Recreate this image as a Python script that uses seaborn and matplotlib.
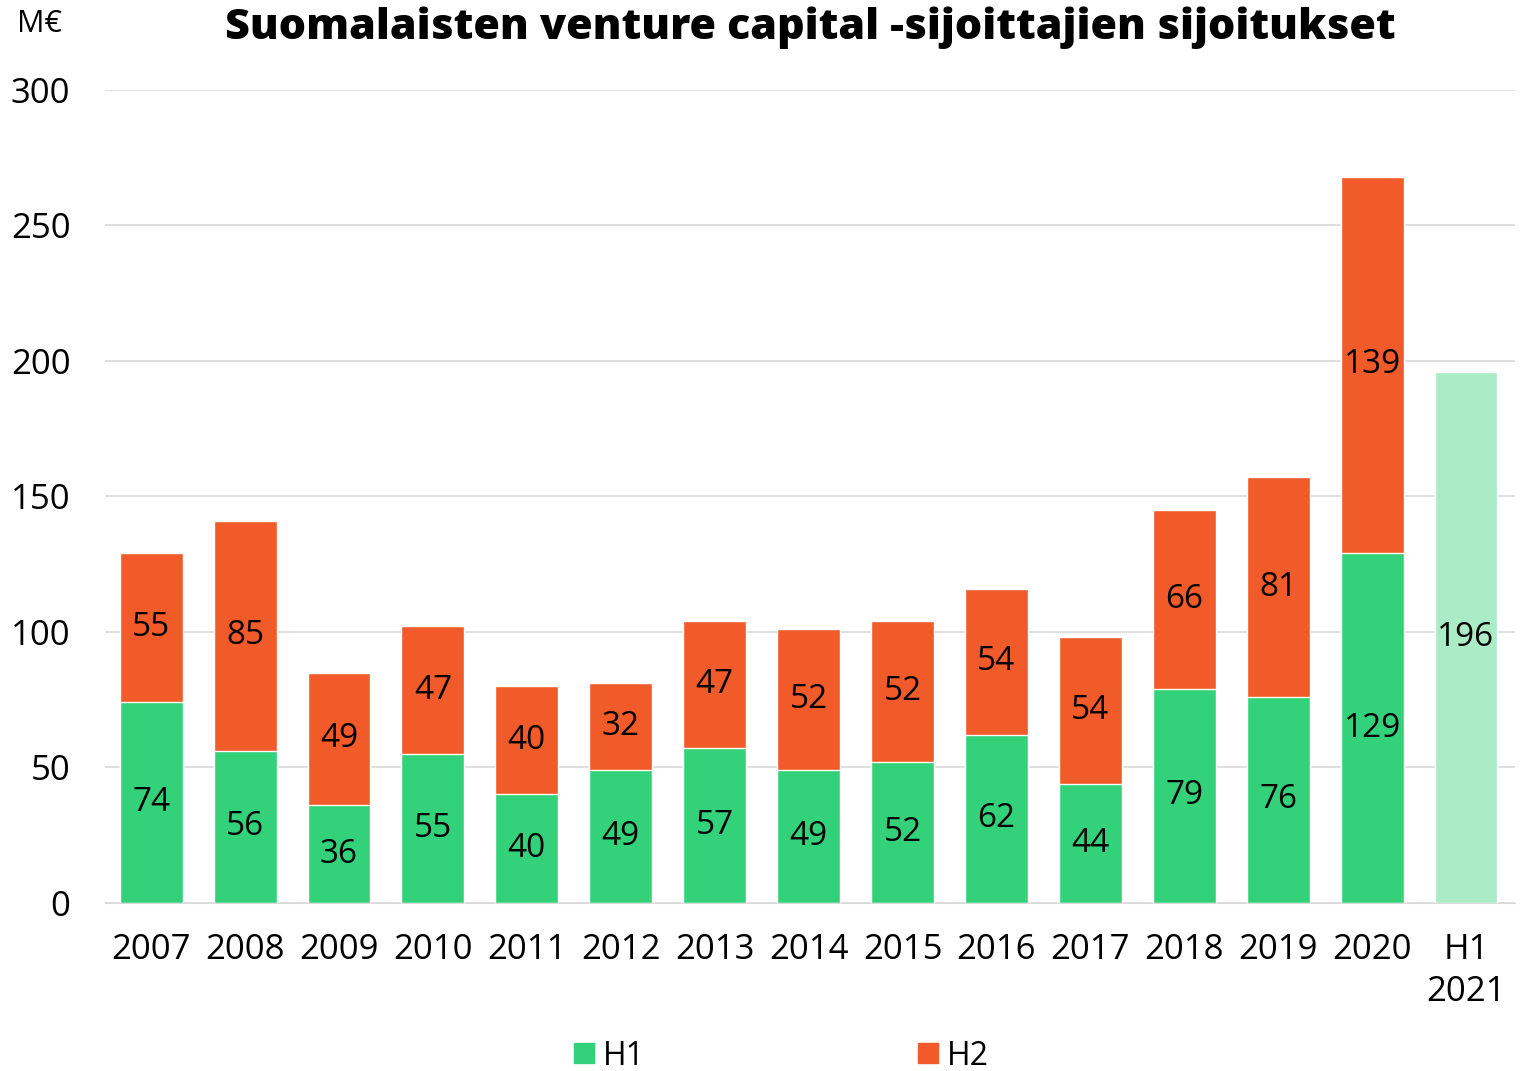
import matplotlib
matplotlib.use("Agg")
import matplotlib.pyplot as plt
import seaborn as sns
from matplotlib.patches import Patch

years = ["2007", "2008", "2009", "2010", "2011", "2012", "2013", "2014",
         "2015", "2016", "2017", "2018", "2019", "2020", "H1\n2021"]
h1 = [74, 56, 36, 55, 40, 49, 57, 49, 52, 62, 44, 79, 76, 129, 196]
h2 = [55, 85, 49, 47, 40, 32, 47, 52, 52, 54, 54, 66, 81, 139, 0]

green = "#33D17A"
orange = "#F15A29"
light_green = "#ABEBC6"

sns.set_style("white")
plt.rcParams["font.family"] = ["Open Sans", "DejaVu Sans"]
plt.rcParams["text.color"] = "black"
plt.rcParams["xtick.color"] = "black"
plt.rcParams["ytick.color"] = "black"

totals = [a + b for a, b in zip(h1, h2)]
h1_colors = [green] * (len(years) - 1) + [light_green]

fig = plt.figure(figsize=(15.24, 10.71), dpi=100)
ax = fig.add_axes([0.069, 0.157, 0.925, 0.759])

# orange totals first, green H1 on top
sns.barplot(x=years, y=totals, color=orange, width=0.67, ax=ax, saturation=1)
sns.barplot(x=years, y=h1, hue=years, palette=h1_colors, width=0.67, ax=ax,
            saturation=1, legend=False)

for i, (a, b) in enumerate(zip(h1, h2)):
    ax.text(i, a / 2, str(a), ha="center", va="center", fontsize=24)
    if b:
        ax.text(i, a + b / 2, str(b), ha="center", va="center", fontsize=24)

ax.set_ylim(0, 300)
ax.set_xlim(-0.49, 14.52)
ax.set_yticks(range(0, 301, 50))
ax.yaxis.grid(True, color="#D9D9D9", linewidth=1.2)
ax.set_axisbelow(True)
for s in ["top", "right", "left"]:
    ax.spines[s].set_visible(False)
ax.spines["bottom"].set_color("#D9D9D9")
ax.tick_params(axis="both", length=0, labelsize=25)
ax.tick_params(axis="x", pad=22)
ax.tick_params(axis="y", pad=25)
for lbl in ax.get_xticklabels():
    lbl.set_linespacing(1.3)
ax.set_xlabel("")
ax.set_ylabel("")

fig.text(0.026, 0.978, "M€", fontsize=22, ha="center", va="center")
fig.text(0.532, 0.974, "Suomalaisten venture capital -sijoittajien sijoitukset",
         fontsize=31, fontweight="heavy", ha="center", va="center")

handles = [Patch(color=green, label="H1"), Patch(color=orange, label="H2")]
fig.legend(handles=handles, loc="center", bbox_to_anchor=(0.513, 0.014), ncol=2,
           frameon=False, fontsize=23, handlelength=0.6, handleheight=0.6,
           handletextpad=0.3, columnspacing=8.55)

fig.savefig("out.png", dpi=100)
